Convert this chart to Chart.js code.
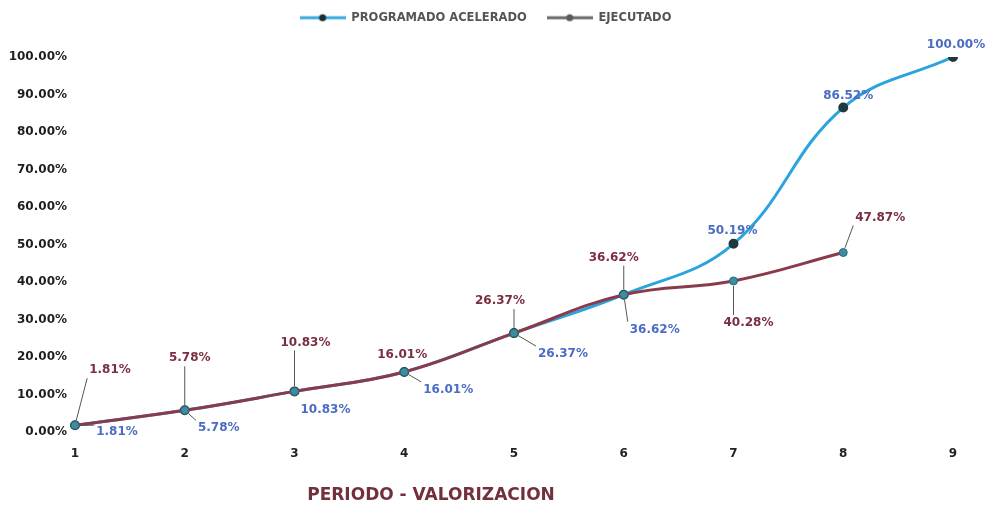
<!DOCTYPE html>
<html>
<head>
<meta charset="utf-8">
<script src="https://cdn.jsdelivr.net/npm/chart.js@4.4.1/dist/chart.umd.min.js"></script>
<style>
  html, body { margin: 0; padding: 0; background: #fff; }
  #wrap { width: 990px; height: 508px; }
</style>
</head>
<body>
<div id="wrap"><canvas id="grafico"></canvas></div>
<script>
  // datos
  const periodos = ['1', '2', '3', '4', '5', '6', '7', '8', '9'];
  const programado = [1.81, 5.78, 10.83, 16.01, 26.37, 36.62, 50.19, 86.52, 100.00];
  const ejecutado = [1.81, 5.78, 10.83, 16.01, 26.37, 36.62, 40.28, 47.87];
  const tituloX = 'PERIODO - VALORIZACION';

  const FONT = '"DejaVu Sans", sans-serif';

  // icono de leyenda: linea con punto
  function iconoLeyenda(color, punto) {
    const c = document.createElement('canvas');
    c.width = 46; c.height = 10;
    const g = c.getContext('2d');
    g.strokeStyle = color;
    g.lineWidth = 3;
    g.beginPath(); g.moveTo(0, 5); g.lineTo(46, 5); g.stroke();
    g.fillStyle = punto;
    g.beginPath(); g.arc(23, 5, 3.5, 0, Math.PI * 2); g.fill();
    return c;
  }
  const iconos = [iconoLeyenda('#3aa9df', '#1c2f33'), iconoLeyenda('#6a6a6a', '#5a5a5a')];

  // etiquetas de datos con lineas guia
  const etiquetas = {
    id: 'etiquetas',
    afterDatasetsDraw(chart) {
      const ctx = chart.ctx;
      ctx.save();
      ctx.font = 'bold 12px ' + FONT;
      ctx.textAlign = 'center';
      ctx.textBaseline = 'middle';
      chart.data.datasets.forEach((ds, i) => {
        const meta = chart.getDatasetMeta(i);
        meta.data.forEach((pt, j) => {
          const off = ds.labelOffsets[j];
          const lx = pt.x + off[0], ly = pt.y + off[1];
          const txt = ds.data[j].toFixed(2) + '%';
          const w = ctx.measureText(txt).width;
          const bx = Math.max(lx - w / 2 - 2, Math.min(pt.x, lx + w / 2 + 2));
          const by = Math.max(ly - 8, Math.min(pt.y, ly + 8));
          const d = Math.hypot(bx - pt.x, by - pt.y);
          if (d > 14) {
            const ux = (bx - pt.x) / d, uy = (by - pt.y) / d;
            ctx.strokeStyle = '#555';
            ctx.lineWidth = 1;
            ctx.beginPath();
            ctx.moveTo(pt.x + ux * 5, pt.y + uy * 5);
            ctx.lineTo(bx, by);
            ctx.stroke();
          }
          ctx.fillStyle = ds.labelColor;
          ctx.fillText(txt, lx, ly);
        });
      });
      ctx.restore();
    },
    afterDraw(chart) {
      const ctx = chart.ctx;
      ctx.save();
      ctx.font = 'bold 17px ' + FONT;
      ctx.fillStyle = '#72303d';
      ctx.textAlign = 'center';
      ctx.textBaseline = 'middle';
      ctx.fillText(tituloX, 431, 496);
      ctx.restore();
    }
  };

  const altoLeyenda = {
    id: 'altoLeyenda',
    beforeInit(chart) {
      const fit = chart.legend.fit;
      chart.legend.fit = function () {
        fit.bind(chart.legend)();
        this.height = 65;
      };
    },
    afterLayout(chart) {
      // centrar la leyenda como en el original
      chart.legend.left = 18;
      chart.legend.right = 953;
    }
  };

  const datos = {
    labels: periodos,
    datasets: [{
      label: 'PROGRAMADO ACELERADO',
      data: programado,
      borderColor: '#2ba4de',
      backgroundColor: '#2ba4de',
      borderWidth: 3,
      tension: 0.4,
      pointRadius: 3.5,
      pointBackgroundColor: '#1d3a3c',
      pointBorderColor: '#1d3a3c',
      order: 1,
      labelColor: '#4a6cc2',
      labelOffsets: [[42, 7], [34, 18], [31, 18], [44, 18], [49, 21], [31, 35], [-1, -13], [5, -12], [3, -12]]
    }, {
      label: 'EJECUTADO',
      data: ejecutado,
      borderColor: '#8a3a4b',
      backgroundColor: '#8a3a4b',
      borderWidth: 3,
      tension: 0.4,
      pointRadius: 4,
      pointBackgroundColor: '#3b8ea0',
      pointBorderColor: '#2a6878',
      pointBorderWidth: 1,
      order: 0,
      labelColor: '#7a2e3f',
      labelOffsets: [[35, -55], [5, -52], [11, -49], [-2, -17], [-14, -32], [-10, -37], [15, 42], [37, -35]]
    }]
  };

  const config = {
    type: 'line',
    data: datos,
    options: {
      responsive: true,
      maintainAspectRatio: false,
      animation: false,
      layout: { padding: { left: 0, right: 37, top: -8, bottom: 0 } },
      plugins: {
        legend: {
          position: 'top',
          labels: {
            usePointStyle: true,
            pointStyleWidth: 46,
            color: '#555',
            font: { family: FONT, size: 11.5, weight: 'bold' },
            padding: 20,
            sort: (a, b) => a.datasetIndex - b.datasetIndex,
            generateLabels(chart) {
              const items = Chart.defaults.plugins.legend.labels.generateLabels(chart);
              items.forEach(it => { it.pointStyle = iconos[it.datasetIndex]; });
              return items;
            }
          }
        },
        tooltip: { enabled: false }
      },
      scales: {
        x: {
          offset: false,
          grid: { display: false, drawTicks: false },
          border: { display: false },
          ticks: {
            color: '#222',
            font: { family: FONT, size: 12, weight: 'bold' },
            padding: 15
          },
          afterFit(scale) { scale.height = 76; }
        },
        y: {
          min: 0,
          max: 100,
          grid: { display: false, drawTicks: false },
          border: { display: false },
          ticks: {
            stepSize: 10,
            color: '#1e1e1e',
            font: { family: FONT, size: 12, weight: 'bold' },
            padding: 8,
            callback: v => v.toFixed(2) + '%'
          },
          afterFit(scale) { scale.width = 75; }
        }
      }
    },
    plugins: [etiquetas, altoLeyenda]
  };

  const grafico = new Chart(document.getElementById('grafico'), config);
</script>
</body>
</html>
